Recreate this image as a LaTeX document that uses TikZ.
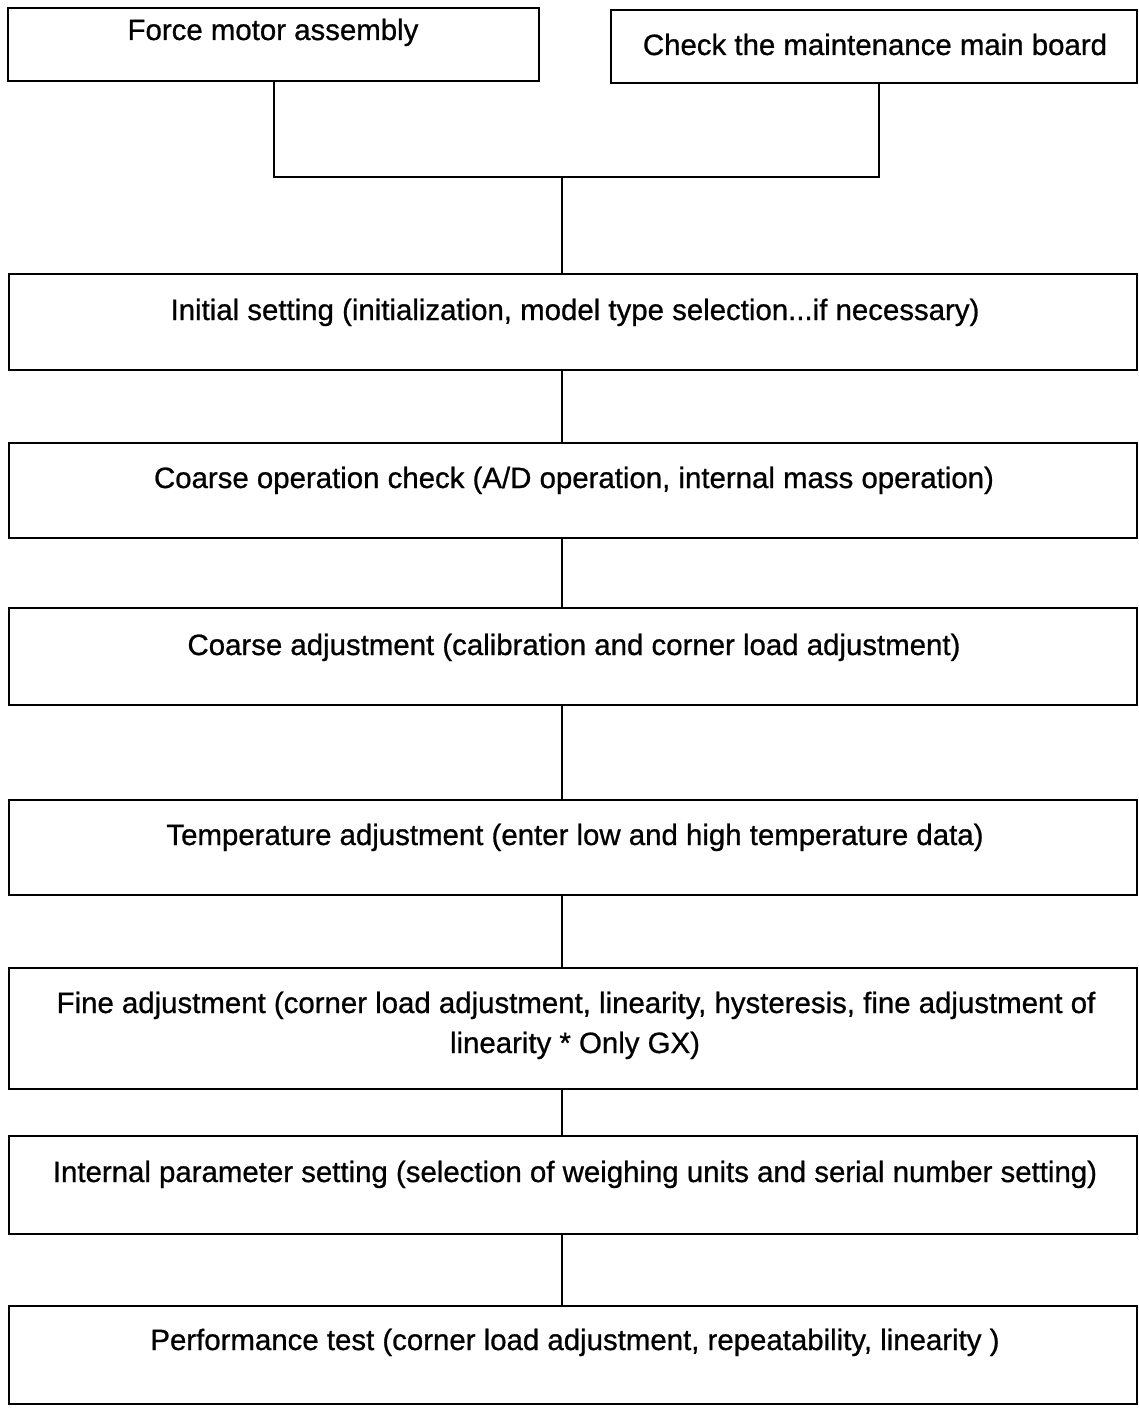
\documentclass[tikz,border=0pt]{standalone}
\usepackage{fontspec}
\setmainfont{Liberation Sans}
\newfontfamily\scanfont{Liberation Sans}[FakeBold=0.8]
\begin{document}
\begin{tikzpicture}[x=1pt,y=-1pt,
  box/.style={draw=black, line width=1.8pt, rectangle, inner sep=0pt},
  txt/.style={anchor=base, inner sep=0pt, font=\scanfont\fontsize{29.4}{34}\selectfont},
  conn/.style={draw=black, line width=1.8pt}]
\useasboundingbox[fill=white] (0,0) rectangle (1138,1413);
% boxes
\node[box, minimum width=531pt, minimum height=73pt] (A) at (273.5,44.5) {};
\node[box, minimum width=526pt, minimum height=73pt] (B) at (874,46.5) {};
\node[box, minimum width=1128pt, minimum height=96pt] (b1) at (573,322) {};
\node[box, minimum width=1128pt, minimum height=95pt] (b2) at (573,490.5) {};
\node[box, minimum width=1128pt, minimum height=97pt] (b3) at (573,656.5) {};
\node[box, minimum width=1128pt, minimum height=95pt] (b4) at (573,847.5) {};
\node[box, minimum width=1128pt, minimum height=121pt] (b5) at (573,1028.5) {};
\node[box, minimum width=1128pt, minimum height=98pt] (b6) at (573,1185) {};
\node[box, minimum width=1128pt, minimum height=98pt] (b7) at (573,1355) {};
% texts
\node[txt] (tA) at (273,40) {Force motor assembly};
\node[txt] (tB) at (875,55) {Check the maintenance main board};
\node[txt] (t1) at (575,320) {Initial setting (initialization, model type selection...if necessary)};
\node[txt] (t2) at (574,488) {Coarse operation check (A/D operation, internal mass operation)};
\node[txt] (t3) at (574,655) {Coarse adjustment (calibration and corner load adjustment)};
\node[txt] (t4) at (575,845) {Temperature adjustment (enter low and high temperature data)};
\node[txt] (t5a) at (576,1013) {Fine adjustment (corner load adjustment, linearity, hysteresis, fine adjustment of};
\node[txt] (t5b) at (575,1053) {linearity * Only GX)};
\node[txt] (t6) at (575,1182) {Internal parameter setting (selection of weighing units and serial number setting)};
\node[txt] (t7) at (575,1350) {Performance test (corner load adjustment, repeatability, linearity )};
% connectors
\coordinate (ja) at (274,177);
\coordinate (jb) at (879,177);
\coordinate (j) at (562,177);
\draw[conn] (A.south -| ja) -- (ja) -- (jb) -- (B.south -| jb);
\draw[conn] (j) -- (b1.north -| j);
\draw[conn] (b1.south -| j) -- (b2.north -| j);
\draw[conn] (b2.south -| j) -- (b3.north -| j);
\draw[conn] (b3.south -| j) -- (b4.north -| j);
\draw[conn] (b4.south -| j) -- (b5.north -| j);
\draw[conn] (b5.south -| j) -- (b6.north -| j);
\draw[conn] (b6.south -| j) -- (b7.north -| j);
\end{tikzpicture}
\end{document}
